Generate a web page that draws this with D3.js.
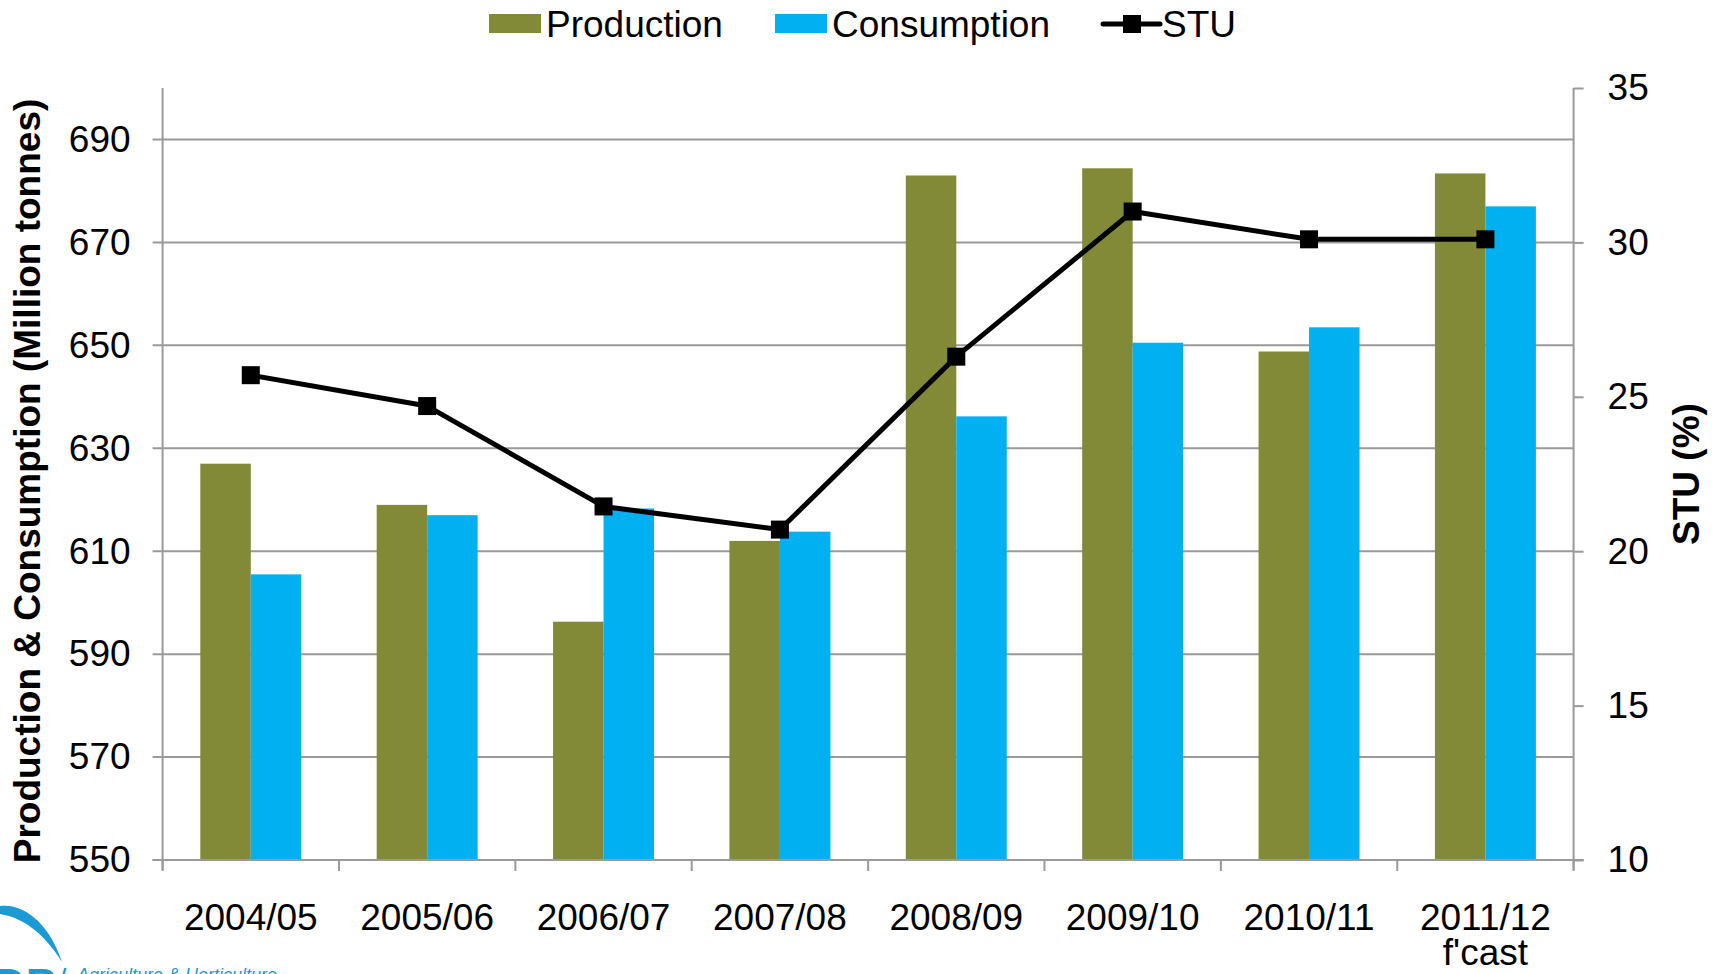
<!DOCTYPE html>
<html>
<head>
<meta charset="utf-8">
<script src="https://d3js.org/d3.v7.min.js"></script>
<style>
  body { margin: 0; background: #fff; }
  svg { display: block; font-family: "Liberation Sans", Arial, sans-serif; }
</style>
</head>
<body>
<div id="chart"></div>
<script>
// chart data
var seasons = ["2004/05", "2005/06", "2006/07", "2007/08", "2008/09", "2009/10", "2010/11", "2011/12"]
var seasonNotes = ["", "", "", "", "", "", "", "f'cast"]
var production = [627, 619, 596.3, 612, 683, 684.4, 648.8, 683.4]
var consumption = [605.5, 617, 618.3, 613.8, 636.2, 650.5, 653.5, 677]
var stu = [25.7, 24.7, 21.45, 20.7, 26.3, 31.0, 30.1, 30.1]
var leftTicks = [550, 570, 590, 610, 630, 650, 670, 690]
var rightTicks = [10, 15, 20, 25, 30, 35]

var W = 1723, H = 974
var plot = {left: 162.6, right: 1573.6, top: 88, bottom: 860}

var svg = d3.select("#chart")
  .append("svg")
    .attr("width", W)
    .attr("height", H)

// scales
var x0 = d3.scaleBand()
  .domain(seasons)
  .range([plot.left, plot.right])
  .paddingInner(0.4275)
  .paddingOuter(0.21375)

var x1 = d3.scaleBand()
  .domain(["Production", "Consumption"])
  .range([0, x0.bandwidth()])
  .padding(0)

var yL = d3.scaleLinear().domain([550, 700]).range([plot.bottom, plot.top])
var yR = d3.scaleLinear().domain([10, 35]).range([plot.bottom, plot.top])

var colors = {Production: "#828a37", Consumption: "#00b0f0"}
var gridColor = "#9a9a9a"

// gridlines
svg.append("g")
  .selectAll("line")
  .data(leftTicks)
  .enter()
  .append("line")
    .attr("x1", plot.left - 10)
    .attr("x2", plot.right)
    .attr("y1", function(d){ return yL(d) })
    .attr("y2", function(d){ return yL(d) })
    .style("stroke", gridColor)
    .style("stroke-width", 2)

// left axis
var axL = svg.append("g")
  .attr("transform", "translate(" + plot.left + ",0)")
  .call(d3.axisLeft(yL).tickValues(leftTicks).tickSize(0).tickPadding(32).tickFormat(d3.format("d")))
axL.select(".domain").remove()
axL.selectAll("text")
  .style("font-size", "37px")
  .style("font-family", "Liberation Sans, Arial, sans-serif")
  .attr("fill", "#000")
svg.append("line")
  .attr("x1", plot.left).attr("x2", plot.left)
  .attr("y1", plot.top).attr("y2", plot.bottom + 10)
  .style("stroke", gridColor).style("stroke-width", 2)

// right axis
var axR = svg.append("g")
  .attr("transform", "translate(" + plot.right + ",0)")
  .call(d3.axisRight(yR).tickValues(rightTicks).tickSize(10).tickPadding(24))
axR.select(".domain").remove()
axR.selectAll(".tick line").style("stroke", gridColor).style("stroke-width", 2)
axR.selectAll("text")
  .style("font-size", "37px")
  .style("font-family", "Liberation Sans, Arial, sans-serif")
  .attr("fill", "#000")
svg.append("line")
  .attr("x1", plot.right).attr("x2", plot.right)
  .attr("y1", plot.top).attr("y2", plot.bottom + 10)
  .style("stroke", gridColor).style("stroke-width", 2)

// x axis with ticks at category boundaries
svg.append("line")
  .attr("x1", plot.left - 10).attr("x2", plot.right + 10)
  .attr("y1", plot.bottom).attr("y2", plot.bottom)
  .style("stroke", gridColor).style("stroke-width", 2)

var step = x0.step()
svg.append("g")
  .selectAll("line")
  .data(d3.range(seasons.length + 1))
  .enter()
  .append("line")
    .attr("x1", function(i){ return plot.left + i * step })
    .attr("x2", function(i){ return plot.left + i * step })
    .attr("y1", plot.bottom)
    .attr("y2", plot.bottom + 11)
    .style("stroke", gridColor)
    .style("stroke-width", 2)

svg.append("g")
  .selectAll("text")
  .data(seasons)
  .enter()
  .append("text")
    .attr("x", function(d){ return x0(d) + x0.bandwidth() / 2 })
    .attr("y", 930)
    .attr("text-anchor", "middle")
    .style("font-size", "37px")
    .text(function(d){ return d })

// second label line (forecast note)
svg.append("g")
  .selectAll("text")
  .data(seasons.filter(function(d, i){ return seasonNotes[i] != "" }))
  .enter()
  .append("text")
    .attr("x", function(d){ return x0(d) + x0.bandwidth() / 2 })
    .attr("y", 965)
    .attr("text-anchor", "middle")
    .style("font-size", "37px")
    .text(function(d){ return seasonNotes[seasons.indexOf(d)] })

// bars
var groups = svg.append("g")
  .selectAll("g")
  .data(seasons)
  .enter()
  .append("g")
    .attr("transform", function(d){ return "translate(" + x0(d) + ",0)" })

groups.selectAll("rect")
  .data(function(d, i){
    return [{key: "Production", value: production[i]}, {key: "Consumption", value: consumption[i]}]
  })
  .enter()
  .append("rect")
    .attr("x", function(d){ return x1(d.key) })
    .attr("y", function(d){ return yL(d.value) })
    .attr("width", x1.bandwidth())
    .attr("height", function(d){ return plot.bottom - 1 - yL(d.value) })
    .style("fill", function(d){ return colors[d.key] })

// STU line
var stuLine = d3.line()
  .x(function(d, i){ return x0(seasons[i]) + x0.bandwidth() / 2 })
  .y(function(d){ return yR(d) })

svg.append("path")
  .datum(stu)
  .attr("d", stuLine)
  .style("fill", "none")
  .style("stroke", "#000")
  .style("stroke-width", 5)
  .style("stroke-linejoin", "round")

svg.append("g")
  .selectAll("rect")
  .data(stu)
  .enter()
  .append("rect")
    .attr("x", function(d, i){ return x0(seasons[i]) + x0.bandwidth() / 2 - 9 })
    .attr("y", function(d){ return yR(d) - 9 })
    .attr("width", 18)
    .attr("height", 18)
    .style("fill", "#000")

// axis titles
svg.append("text")
  .attr("transform", "translate(40,481) rotate(-90)")
  .attr("text-anchor", "middle")
  .style("font-size", "37px")
  .style("font-weight", "bold")
  .text("Production & Consumption (Million tonnes)")

svg.append("text")
  .attr("transform", "translate(1699,474) rotate(-90)")
  .attr("text-anchor", "middle")
  .style("font-size", "37px")
  .style("font-weight", "bold")
  .text("STU (%)")

// legend
var legend = svg.append("g")
legend.append("rect").attr("x", 489).attr("y", 14).attr("width", 52).attr("height", 19).style("fill", colors.Production)
legend.append("text").attr("x", 546).attr("y", 37).style("font-size", "37px").text("Production")
legend.append("rect").attr("x", 775).attr("y", 14).attr("width", 52).attr("height", 19).style("fill", colors.Consumption)
legend.append("text").attr("x", 832).attr("y", 37).style("font-size", "37px").text("Consumption")
legend.append("line").attr("x1", 1103).attr("x2", 1160).attr("y1", 24).attr("y2", 24)
  .style("stroke", "#000").style("stroke-width", 5).style("stroke-linecap", "round")
legend.append("rect").attr("x", 1123).attr("y", 15).attr("width", 18).attr("height", 18).style("fill", "#000")
legend.append("text").attr("x", 1162).attr("y", 37).style("font-size", "37px").text("STU")

// logo fragment at bottom left (cut off by the picture edge, as in the original)
var logo = svg.append("g")
logo.append("path")
  .attr("d", "M0,906 C25,903 50,925 62,962 C45,935 25,918 0,914 Z")
  .style("fill", "#1b9ad6")
logo.append("text")
  .attr("x", -6).attr("y", 1000)
  .style("font-size", "44px").style("font-weight", "bold")
  .style("fill", "#1b9ad6")
  .text("DB")
logo.append("text")
  .attr("x", 58).attr("y", 990)
  .style("font-size", "30px")
  .style("fill", "#1b9ad6")
  .text("/")
logo.append("text")
  .attr("x", 77).attr("y", 981)
  .style("font-size", "18px").style("font-style", "italic")
  .style("fill", "#1b9ad6")
  .text("Agriculture & Horticulture")
</script>
</body>
</html>
